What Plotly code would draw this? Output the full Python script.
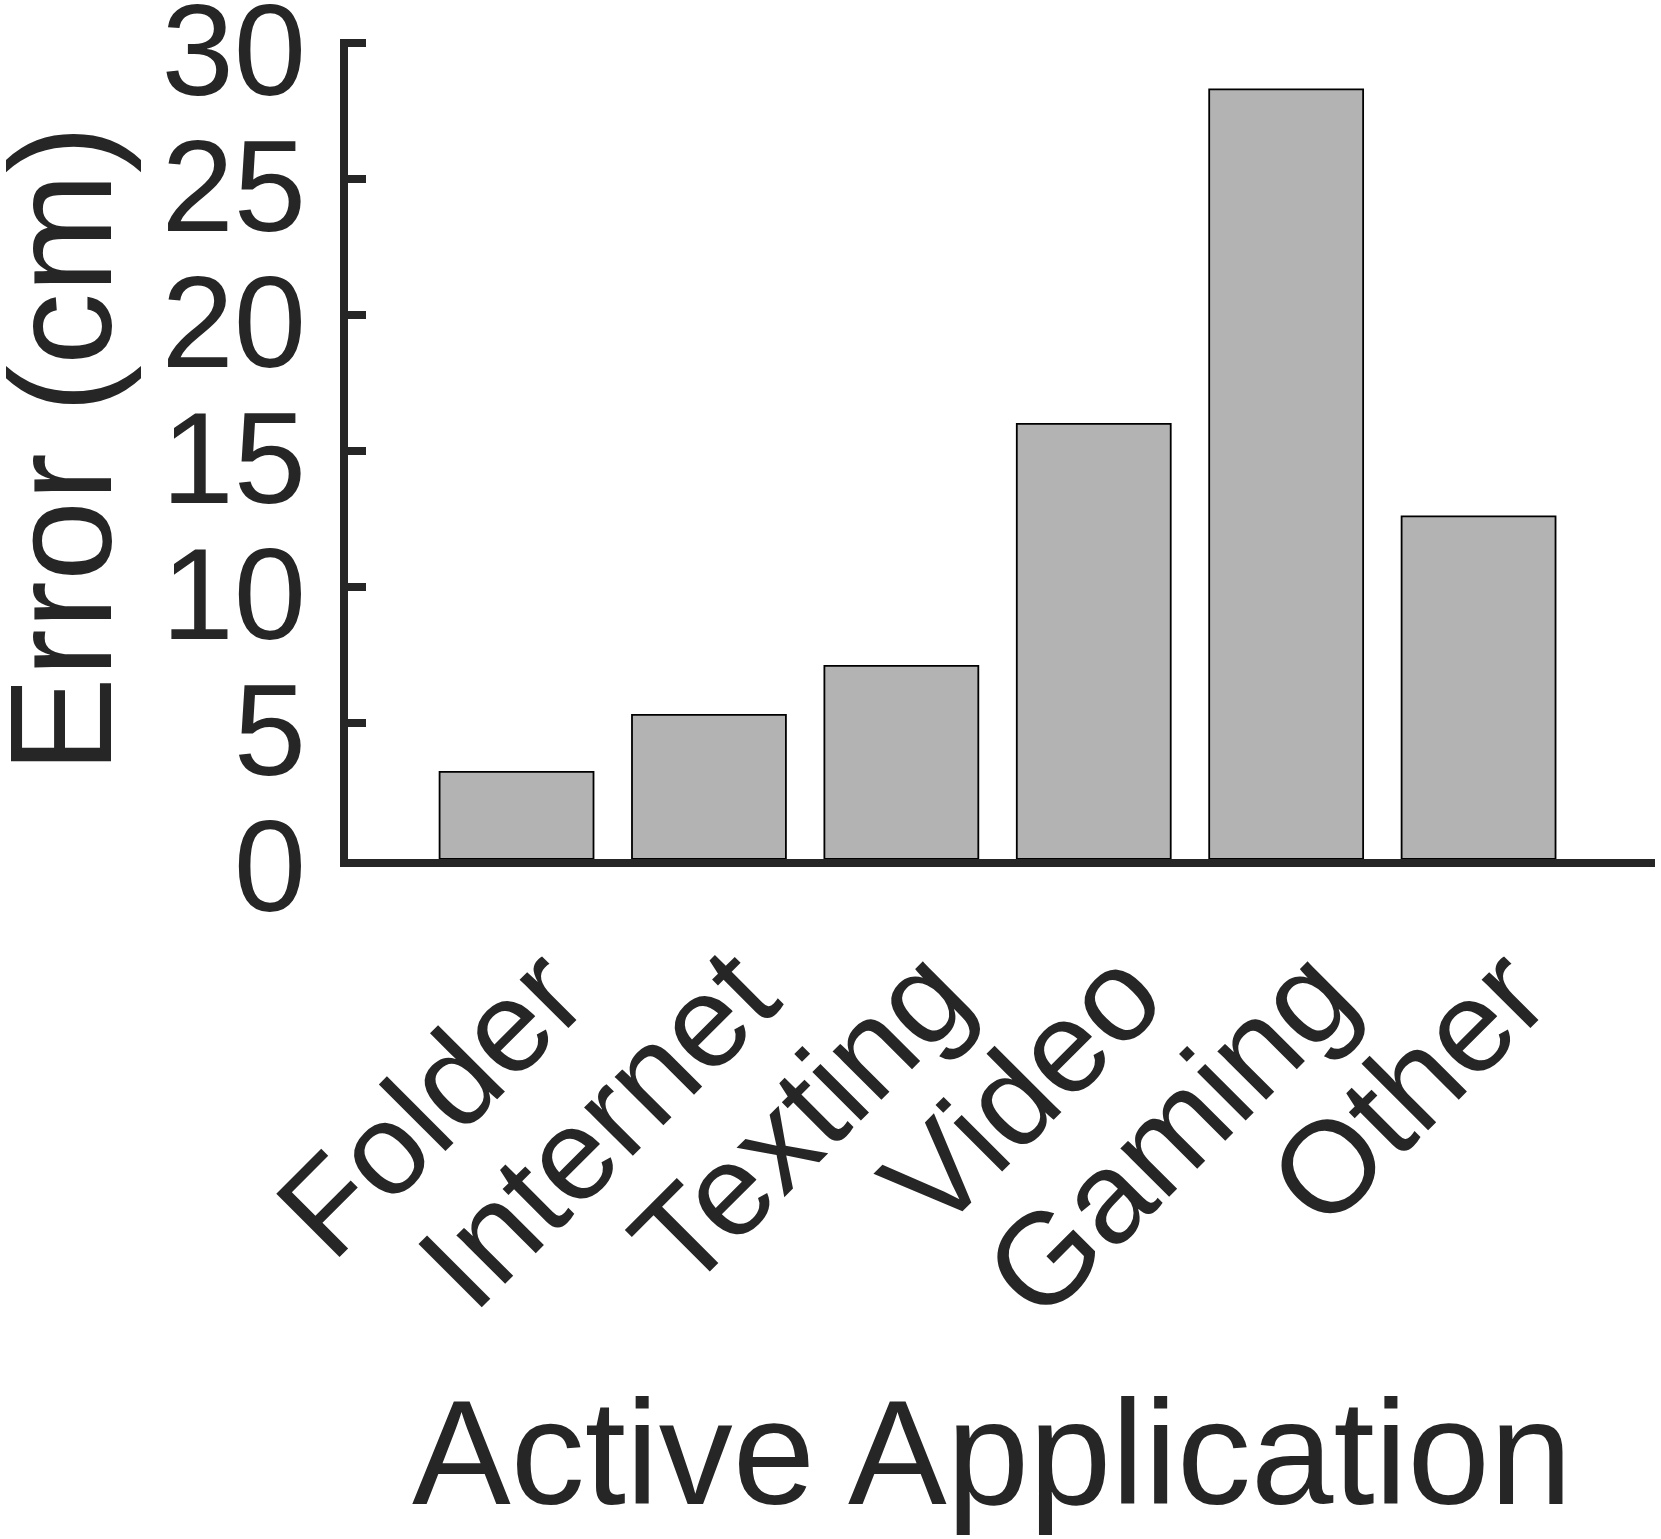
import plotly.graph_objects as go

# %% data
apps = ['Folder', 'Internet', 'Texting', 'Video', 'Gaming', 'Other']
error_cm = [3.2, 5.3, 7.1, 16.0, 28.3, 12.6]
y_ticks = [0, 5, 10, 15, 20, 25, 30]

ink = '#262626'
font = 'Liberation Sans, Arial, sans-serif'

W, H = 1661, 1539
# plot box on the page, in pixels
L, R, T, B = 348, 1655, 39, 859

def px_x(x):
    return (x - L) / (R - L)

def px_y(y):
    return (B - y) / (B - T)

# %% figure
fig = go.Figure()
fig.add_trace(go.Bar(
    x=apps, y=error_cm, width=0.8,
    marker=dict(color='#b3b3b3', line=dict(color='black', width=1.8)),
))

fig.update_layout(
    width=W, height=H,
    margin=dict(l=L, r=W - R, t=T, b=H - B),
    plot_bgcolor='white', paper_bgcolor='white',
    showlegend=False,
    font=dict(family=font, color=ink, size=130),
)
fig.update_xaxes(
    range=[-0.876, 5.917], automargin=False,
    showline=True, linecolor=ink, linewidth=8,
    ticks='', tickangle=-45,
    tickfont=dict(size=130),
    ticklabelshift=30, ticklabelstandoff=0,
    showgrid=False, zeroline=False,
)
fig.update_yaxes(
    range=[0, 30.15], tickvals=y_ticks, automargin=False,
    showline=True, linecolor=ink, linewidth=8,
    ticks='inside', ticklen=18, tickwidth=8, tickcolor=ink,
    tickfont=dict(size=130),
    ticklabelstandoff=8, ticklabelshift=6, ticklabeloverflow='allow',
    showgrid=False, zeroline=False,
)

# axis titles
fig.add_annotation(
    text='Error (cm)', textangle=-90, showarrow=False,
    xref='paper', yref='paper', x=px_x(61), y=px_y(449),
    xanchor='center', yanchor='middle', font=dict(size=144),
)
fig.add_annotation(
    text='Active Application', showarrow=False,
    xref='paper', yref='paper', x=px_x(992), y=px_y(1452),
    xanchor='center', yanchor='middle', font=dict(size=148),
)

# drop the default 8px body margin so the figure fills the page
fig.write_html('out.html', config={'displayModeBar': False},
               post_script="document.body.style.margin = '0';")
